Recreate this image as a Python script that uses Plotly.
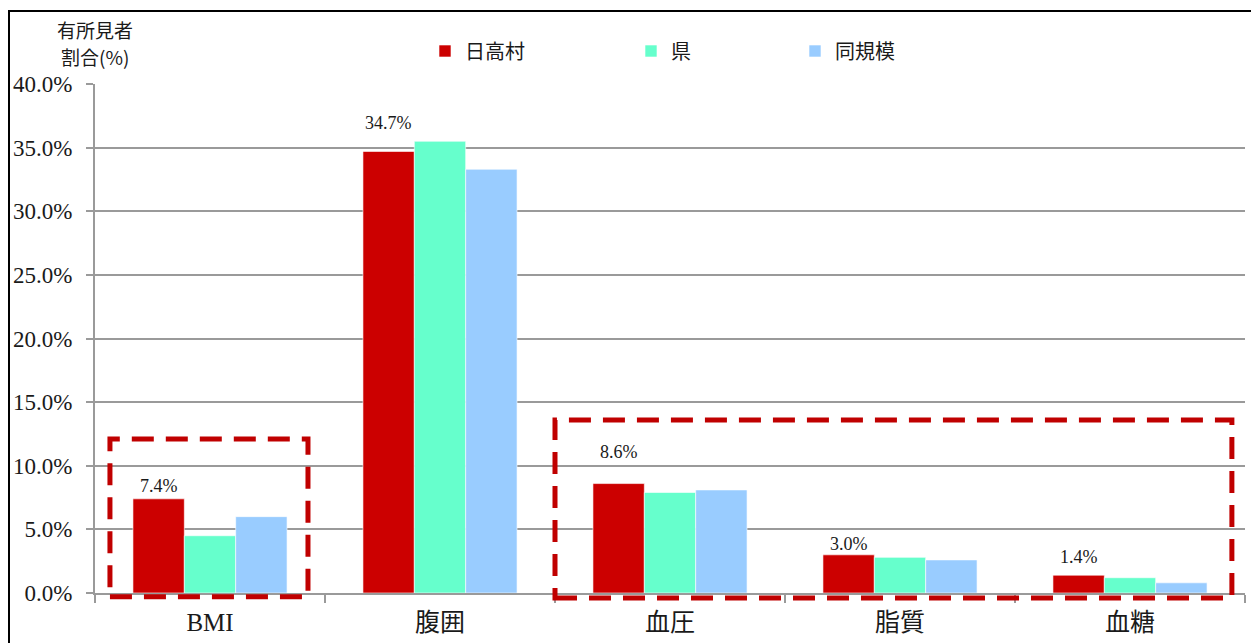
import plotly.graph_objects as go

# 有所見者割合（%）: 日高村・県・同規模
categories = ["BMI", "腹囲", "血圧", "脂質", "血糖"]
series_names = ["日高村", "県", "同規模"]
hidaka = [7.4, 34.7, 8.6, 3.0, 1.4]
ken = [4.5, 35.5, 7.9, 2.8, 1.2]
doukibo = [6.0, 33.3, 8.1, 2.6, 0.8]
y_ticks = [0, 5, 10, 15, 20, 25, 30, 35, 40]
y_tick_labels = [f"{v:.1f}%" for v in y_ticks]
Y_MAX = 40
caption_lines = ["有所見者", "割合(%)"]

colors = ["#CC0000", "#66FFCC", "#99CCFF"]
label_yshift = [1, 16, 20, -1, 6]  # per-category nudge of the 日高村 value labels

W, H = 1251, 643
M_L, M_R, M_T, M_B = 95, 6, 84, 50
PW, PH = W - M_L - M_R, H - M_T - M_B
BARGAP = 0.33

SERIF = "Liberation Serif, Noto Sans CJK JP, serif"
TXT = "#1a1a1a"
GRID = "#9a9a9a"


def px_to_paper(px, py):
    return (px - M_L) / PW, (H - M_B - py) / PH


def data_to_paper(xv, yv):
    # category slot i spans [i-0.5, i+0.5]
    return (xv + 0.5) / len(categories), yv / Y_MAX


fig = go.Figure()
legend_ids = ["legend", "legend2", "legend3"]
for name, vals, col, lg in zip(series_names, [hidaka, ken, doukibo], colors, legend_ids):
    fig.add_trace(go.Bar(
        x=categories, y=vals, name=name, legend=lg,
        marker=dict(color=col, line=dict(color="white", width=0.6)),
        hoverinfo="skip",
    ))

# value labels above the 日高村 bars
bar_w = (1 - BARGAP) / 3
for i, (v, dy) in enumerate(zip(hidaka, label_yshift)):
    fig.add_annotation(
        x=i - bar_w, y=v, xref="x", yref="y", text=f"{v:.1f}%",
        showarrow=False, yanchor="bottom", yshift=dy,
        font=dict(family=SERIF, size=18, color=TXT),
    )

# y-axis caption, one annotation per line
for line, py in zip(caption_lines, [30, 57]):
    cx, cy = px_to_paper(95, py)
    fig.add_annotation(
        x=cx, y=cy, xref="paper", yref="paper",
        text=line, showarrow=False, xanchor="center", yanchor="middle",
        font=dict(family="Noto Sans CJK JP", size=19, color=TXT),
    )

# dashed highlight frames (drawn in paper space so the bottom edge is not clipped)
frame_style = dict(type="rect", xref="paper", yref="paper", layer="above",
                   line=dict(color="#C00000", width=5, dash="22px,12px"))
for (xa, xb, ya, yb) in [(-0.435, 0.426, -0.3, 12.1), (1.5, 4.443, -0.4, 13.6)]:
    x0, y0 = data_to_paper(xa, ya)
    x1, y1 = data_to_paper(xb, yb)
    fig.add_shape(x0=x0, x1=x1, y0=y0, y1=y1, **frame_style)

# outer chart border (left and top edges)
bx, by = px_to_paper(9, 11)
fig.add_shape(type="rect", xref="paper", yref="paper",
              x0=bx, x1=1.2, y0=-0.3, y1=by,
              line=dict(color="black", width=2), layer="above")

legend_base = dict(orientation="h", xref="container", yref="container",
                   yanchor="middle", xanchor="left", bgcolor="rgba(0,0,0,0)",
                   font=dict(family="Noto Sans CJK JP", size=20, color=TXT),
                   itemclick=False, itemdoubleclick=False)
legend_x = [425, 631, 795]
fig.update_layout(
    width=W, height=H,
    margin=dict(l=M_L, r=M_R, t=M_T, b=M_B, autoexpand=False),
    paper_bgcolor="white", plot_bgcolor="white",
    barmode="group", bargap=BARGAP, bargroupgap=0,
    showlegend=True,
    legend=dict(x=legend_x[0] / W, y=1 - 51 / H, **legend_base),
    legend2=dict(x=legend_x[1] / W, y=1 - 51 / H, **legend_base),
    legend3=dict(x=legend_x[2] / W, y=1 - 51 / H, **legend_base),
    xaxis=dict(
        type="category", showgrid=False, showline=True, linecolor=GRID, linewidth=2,
        ticks="outside", tickson="boundaries", ticklen=8, tickcolor=GRID, tickwidth=2,
        tickfont=dict(family=SERIF, size=25, color=TXT), ticklabelstandoff=6,
        fixedrange=True,
    ),
    yaxis=dict(
        range=[0, Y_MAX], tickvals=y_ticks, ticktext=y_tick_labels,
        showgrid=True, gridcolor=GRID, gridwidth=2,
        showline=True, linecolor=GRID, linewidth=2, zeroline=False,
        ticks="outside", ticklen=7, tickcolor=GRID, tickwidth=2,
        tickfont=dict(family=SERIF, size=23, color=TXT), ticklabelstandoff=9,
        fixedrange=True,
    ),
    hovermode=False,
)

fig.write_html("out.html", config={"displayModeBar": False})
